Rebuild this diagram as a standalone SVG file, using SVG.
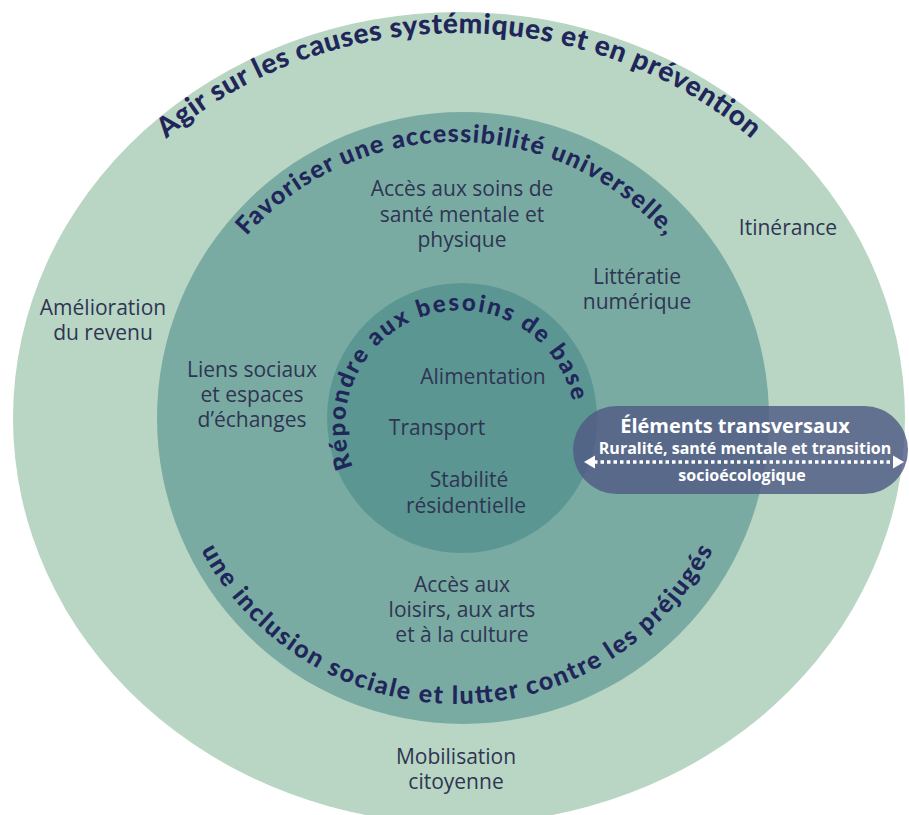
<svg xmlns="http://www.w3.org/2000/svg" width="909" height="815" viewBox="0 0 909 815">
<defs>
<style>
.t{font-family:"Open Sans","Liberation Sans",sans-serif;font-size:21px;fill:#2e3552;text-anchor:middle}
.h{font-family:Lato,"Open Sans",sans-serif;font-weight:900;fill:#21265a}
.w{font-family:"Open Sans","Liberation Sans",sans-serif;font-weight:700;fill:#ffffff;text-anchor:middle}
</style>
<path id="pOuter" d="M34,418 A425,385 0 0 1 884,418"/>
<path id="pMidTop" d="M176,422 A280,280 0 0 1 736,422"/>
<path id="pMidBot" d="M167,414 A290,290 0 0 0 747,414"/>
<path id="pInner" d="M352.9,467 A115,115 0 1 1 572.3,400.1"/>
</defs>
<rect width="909" height="815" fill="#ffffff"/>
<g id="outer">
<ellipse cx="459" cy="418" rx="446" ry="406" fill="#b9d5c4"/>
<text class="h" font-size="28"><textPath href="#pOuter" startOffset="50%" text-anchor="middle" textLength="635" lengthAdjust="spacing">Agir sur les causes systémiques et en prévention</textPath></text>
<text class="t" x="788" y="235">Itinérance</text>
<text class="t" x="103" y="315">Amélioration</text>
<text class="t" x="103" y="340">du revenu</text>
<text class="t" x="456" y="764">Mobilisation</text>
<text class="t" x="456" y="789">citoyenne</text>
</g>
<g id="middle">
<circle cx="463" cy="418" r="306" fill="#7aaba3"/>
<text class="h" font-size="25"><textPath href="#pMidTop" startOffset="50%" text-anchor="middle" textLength="473" lengthAdjust="spacing">Favoriser une accessibilité universelle,</textPath></text>
<text class="h" font-size="25"><textPath href="#pMidBot" startOffset="50%" text-anchor="middle" textLength="627" lengthAdjust="spacing">une inclusion sociale et lutter contre les préjugés</textPath></text>
<text class="t" x="462" y="196">Accès aux soins de</text>
<text class="t" x="462" y="222">santé mentale et</text>
<text class="t" x="462" y="247">physique</text>
<text class="t" x="637" y="284">Littératie</text>
<text class="t" x="637" y="309">numérique</text>
<text class="t" x="252" y="377">Liens sociaux</text>
<text class="t" x="252" y="402">et espaces</text>
<text class="t" x="252" y="427">d’échanges</text>
<text class="t" x="462" y="592">Accès aux</text>
<text class="t" x="462" y="617">loisirs, aux arts</text>
<text class="t" x="462" y="642">et à la culture</text>
</g>
<g id="inner">
<circle cx="462" cy="418" r="135" fill="#5b9692"/>
<text class="h" font-size="24"><textPath href="#pInner" startOffset="0" textLength="379" lengthAdjust="spacing">Répondre aux besoins de base</textPath></text>
<text class="t" x="483" y="384">Alimentation</text>
<text class="t" x="437" y="435">Transport</text>
<text class="t" x="469" y="487">Stabilité</text>
<text class="t" x="466" y="513">résidentielle</text>
</g>
<g id="transversal">
<rect x="573" y="406" width="335" height="88" rx="44" fill="#515a85" fill-opacity="0.82"/>
<text class="w" x="735" y="433" font-size="20">Éléments transversaux</text>
<text class="w" x="745" y="454" font-size="16">Ruralité, santé mentale et transition</text>
<text class="w" x="742" y="481" font-size="16">socioécologique</text>
</g>
<g id="connectors">
<line x1="594" y1="462" x2="894" y2="462" stroke="#ffffff" stroke-width="3.5" stroke-dasharray="3.5,3"/>
<polygon points="584,462 595,455.5 595,468.5" fill="#ffffff"/>
<polygon points="904,462 893,455.5 893,468.5" fill="#ffffff"/>
</g>
</svg>
